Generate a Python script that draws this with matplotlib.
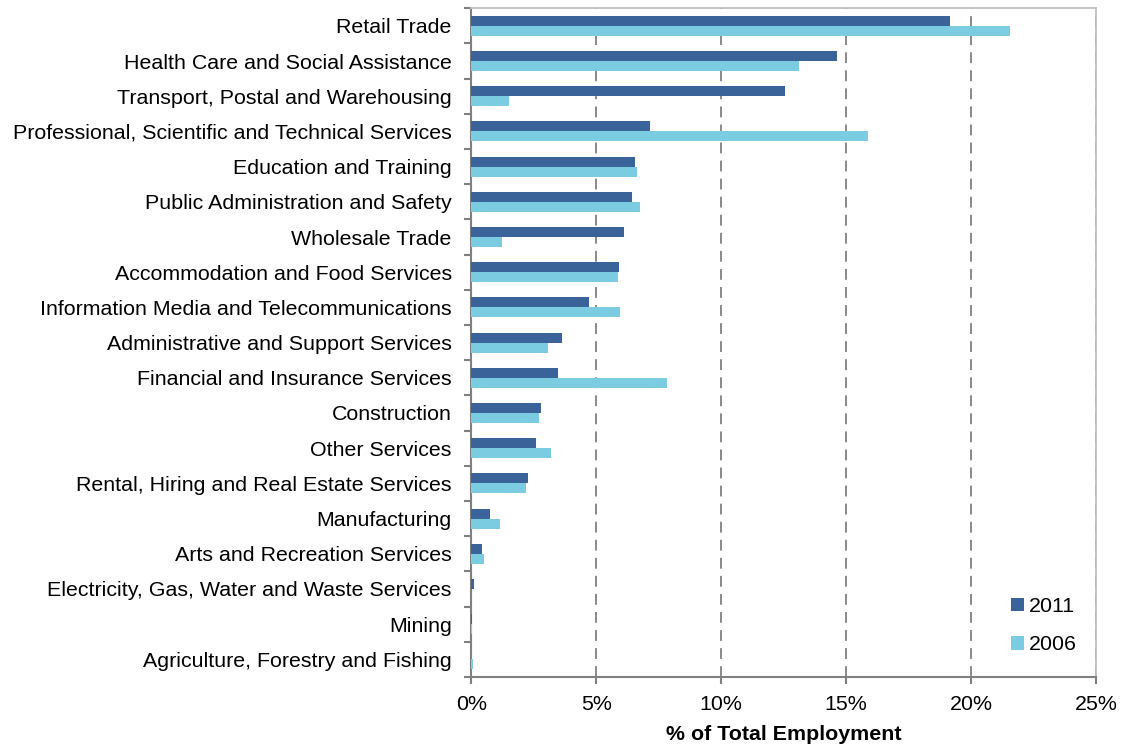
import numpy as np
import matplotlib
matplotlib.use("Agg")
import matplotlib.pyplot as plt
import matplotlib.ticker as ticker

# データ
categories = [
    "Retail Trade",
    "Health Care and Social Assistance",
    "Transport, Postal and Warehousing",
    "Professional, Scientific and Technical Services",
    "Education and Training",
    "Public Administration and Safety",
    "Wholesale Trade",
    "Accommodation and Food Services",
    "Information Media and Telecommunications",
    "Administrative and Support Services",
    "Financial and Insurance Services",
    "Construction",
    "Other Services",
    "Rental, Hiring and Real Estate Services",
    "Manufacturing",
    "Arts and Recreation Services",
    "Electricity, Gas, Water and Waste Services",
    "Mining",
    "Agriculture, Forestry and Fishing",
]
share_2011 = [19.16, 14.63, 12.56, 7.14, 6.57, 6.43, 6.13, 5.91, 4.70, 3.65,
              3.48, 2.79, 2.61, 2.29, 0.74, 0.45, 0.10, 0.02, 0.0]
share_2006 = [21.57, 13.10, 1.52, 15.89, 6.65, 6.77, 1.23, 5.86, 5.94, 3.06,
              7.85, 2.73, 3.18, 2.19, 1.16, 0.52, 0.0, 0.02, 0.07]
x_ticks = [0, 5, 10, 15, 20, 25]

DARK = "#3A6399"
LIGHT = "#7BCCE0"
FS = 15.4

plt.rcParams["font.family"] = ["Liberation Sans", "DejaVu Sans"]

fig = plt.figure(figsize=(11.22, 7.46), dpi=100)
ax = fig.add_axes([0.42, 0.0925, 0.557, 0.8965])

y = np.arange(len(categories))
h = 0.283
ax.barh(y - h / 2, share_2011, height=h, color=DARK, label="2011", zorder=3)
ax.barh(y + h / 2, share_2006, height=h, color=LIGHT, label="2006", zorder=3)

ax.set_ylim(len(categories) - 0.5, -0.5)
ax.set_xlim(0, 25)

# 目盛り
ax.set_xticks(x_ticks)
ax.xaxis.set_major_formatter(ticker.FuncFormatter(lambda v, p: f"{v:.0f}%"))
ax.set_yticks(y)
ax.set_yticklabels(categories)
ax.set_yticks(np.arange(len(categories) + 1) - 0.5, minor=True)
ax.tick_params(axis="y", which="major", length=0, pad=14, labelsize=FS)
ax.tick_params(axis="y", which="minor", length=5, width=1.5, color="#808080")
ax.tick_params(axis="x", which="major", length=5, width=1.5, color="#808080",
               labelsize=FS, pad=8)

# グリッド
ax.grid(axis="x", linestyle=(0, (6, 4)), color="#808080", linewidth=1.3, zorder=0)
ax.grid(axis="y", visible=False)

for side in ["top", "right"]:
    ax.spines[side].set_color("#BFBFBF")
    ax.spines[side].set_linewidth(1.3)
for side in ["left", "bottom"]:
    ax.spines[side].set_color("#808080")
    ax.spines[side].set_linewidth(1.5)

ax.set_xlabel("% of Total Employment", fontsize=FS, fontweight="bold", labelpad=8)

ax.legend(loc="lower right", bbox_to_anchor=(1.0, 0.005), frameon=False,
          fontsize=FS, handlelength=0.6, handleheight=0.6, handletextpad=0.25,
          labelspacing=0.9)

fig.savefig("out.png", dpi=100)
